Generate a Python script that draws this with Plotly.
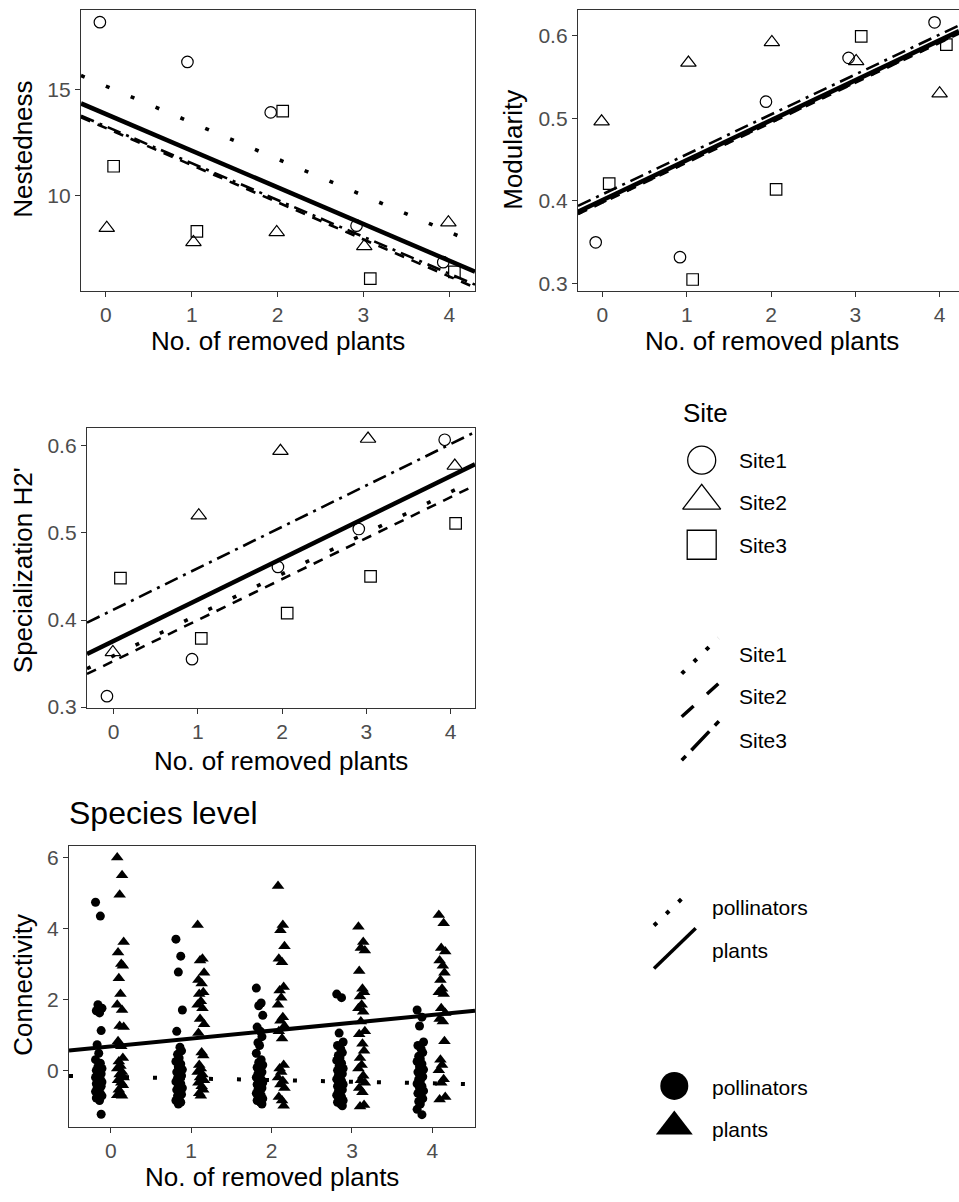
import plotly.graph_objects as go

W, H = 959, 1202

# ---------------- data ----------------
# Nestedness (community level), x = removed plants (with jitter as read)
nest_x_site1 = [-0.07, 0.95, 1.92, 2.92, 3.93]
nest_y_site1 = [18.16, 16.29, 13.91, 8.57, 6.85]
nest_x_site2 = [0.01, 1.02, 1.99, 3.01, 3.99]
nest_y_site2 = [8.46, 7.79, 8.26, 7.60, 8.72]
nest_x_site3 = [0.09, 1.06, 2.06, 3.08, 4.06]
nest_y_site3 = [11.37, 8.30, 13.97, 6.07, 6.39]
nest_fit_intercepts = {"all": 13.83, "Site1": 15.15, "Site2": 13.17, "Site3": 13.25}
nest_fit_slopes = {"all": -1.728, "Site1": -1.72, "Site2": -1.749, "Site3": -1.735}

# Modularity
mod_x_site1 = [-0.08, 0.92, 1.94, 2.92, 3.94]
mod_y_site1 = [0.350, 0.332, 0.520, 0.573, 0.616]
mod_x_site2 = [-0.01, 1.02, 2.01, 3.01, 4.00]
mod_y_site2 = [0.496, 0.567, 0.592, 0.569, 0.530]
mod_x_site3 = [0.08, 1.07, 2.06, 3.07, 4.08]
mod_y_site3 = [0.421, 0.305, 0.414, 0.599, 0.589]
mod_fit_intercepts = {"all": 0.401, "Site1": 0.399, "Site2": 0.398, "Site3": 0.408}
mod_fit_slopes = {"all": 0.0483, "Site1": 0.0483, "Site2": 0.0483, "Site3": 0.0483}

# Specialization H2'
h2_x_site1 = [-0.08, 0.93, 1.95, 2.91, 3.93]
h2_y_site1 = [0.3125, 0.355, 0.461, 0.5045, 0.607]
h2_x_site2 = [-0.01, 1.01, 1.98, 3.02, 4.05]
h2_y_site2 = [0.363, 0.520, 0.594, 0.608, 0.577]
h2_x_site3 = [0.08, 1.04, 2.06, 3.05, 4.06]
h2_y_site3 = [0.448, 0.379, 0.408, 0.450, 0.511]
h2_fit_intercepts = {"all": 0.376, "Site1": 0.359, "Site2": 0.353, "Site3": 0.412}
h2_fit_slopes = {"all": 0.0473, "Site1": 0.047, "Site2": 0.047, "Site3": 0.0475}

# Species level connectivity, one list per number of removed plants
removed_levels = [0, 1, 2, 3, 4]
conn_pollinators = [
    [4.74, 4.35, 1.85, 1.75, 1.68, 1.62, 1.12, 0.72, 0.48, 0.3, 0.2, 0.1, 0.05, 0.0, -0.05, -0.1,
     -0.12, -0.18, -0.2, -0.25, -0.3, -0.33, -0.38, -0.42, -0.45, -0.5, -0.55, -0.6, -0.65, -0.7,
     -0.72, -0.78, -0.85, -1.24],
    [3.7, 3.22, 2.77, 1.7, 1.1, 0.65, 0.55, 0.45, 0.35, 0.25, 0.18, 0.1, 0.02, -0.05, -0.1, -0.15,
     -0.22, -0.28, -0.32, -0.38, -0.45, -0.5, -0.55, -0.62, -0.68, -0.72, -0.78, -0.85, -0.9, -0.95],
    [2.32, 1.9, 1.82, 1.55, 1.22, 1.1, 0.95, 0.78, 0.7, 0.48, 0.3, 0.22, 0.15, 0.08, 0.0, -0.05,
     -0.1, -0.15, -0.2, -0.25, -0.3, -0.35, -0.4, -0.45, -0.5, -0.55, -0.6, -0.65, -0.7, -0.75,
     -0.8, -0.85, -0.9, -0.95],
    [2.15, 2.05, 1.05, 0.8, 0.7, 0.6, 0.5, 0.42, 0.35, 0.28, 0.2, 0.12, 0.05, 0.0, -0.05, -0.1,
     -0.15, -0.2, -0.25, -0.3, -0.35, -0.4, -0.45, -0.5, -0.55, -0.6, -0.65, -0.7, -0.75, -0.8,
     -0.85, -0.9, -0.95, -1.0],
    [1.7, 1.5, 1.25, 0.8, 0.7, 0.6, 0.5, 0.4, 0.32, 0.25, 0.18, 0.1, 0.02, -0.05, -0.1, -0.18,
     -0.25, -0.3, -0.38, -0.45, -0.5, -0.58, -0.65, -0.72, -0.8, -0.88, -0.95, -1.1, -1.25],
]
conn_plants = [
    [6.0, 5.5, 4.95, 3.62, 3.32, 3.0, 2.95, 2.6, 2.15, 1.85, 1.7, 1.25, 1.22, 0.82, 0.68, 0.35,
     0.25, 0.12, 0.05, -0.05, -0.12, -0.2, -0.28, -0.35, -0.42, -0.55, -0.65, -0.7, -0.72],
    [4.1, 3.15, 3.1, 2.75, 2.55, 2.45, 2.2, 2.15, 1.95, 1.85, 1.75, 1.45, 1.3, 1.05, 0.5, 0.42,
     0.15, 0.05, -0.05, -0.12, -0.2, -0.28, -0.35, -0.45, -0.55, -0.65, -0.72],
    [5.2, 4.1, 3.95, 3.5, 3.15, 3.05, 2.35, 2.25, 2.05, 1.85, 1.5, 1.4, 1.25, 1.1, 0.9, 0.15,
     0.05, -0.05, -0.2, -0.3, -0.4, -0.5, -0.75, -0.85, -1.0],
    [4.05, 3.62, 3.45, 3.38, 2.8, 2.3, 2.2, 2.08, 1.85, 1.75, 1.65, 1.38, 1.1, 1.02, 0.75, 0.55,
     0.35, 0.15, 0.05, -0.15, -0.28, -0.35, -0.5, -0.62, -0.98, -1.02],
    [4.38, 4.15, 3.45, 3.35, 3.1, 2.95, 2.75, 2.55, 2.3, 2.2, 2.15, 1.75, 1.62, 1.45, 1.38, 0.82,
     0.3, 0.15, 0.0, -0.25, -0.35, -0.75, -0.82],
]
conn_fit_intercepts = {"pollinators": -0.183, "plants": 0.675}
conn_fit_slopes = {"pollinators": -0.046, "plants": 0.222}
group_offsets = {"pollinators": -0.15, "plants": 0.12}
jitter_cycle = [-0.04, 0.02, -0.01, 0.04, -0.03, 0.01, 0.03, -0.02, 0.0]

site_names = ["Site1", "Site2", "Site3"]
x_ticks = [0, 1, 2, 3, 4]

# ---------------- styles ----------------
FONT = "Liberation Sans, Arial, sans-serif"
TICK_FONT = dict(family=FONT, size=21, color="#4d4d4d")
BORDER = "#333333"

site_symbols = {"Site1": "circle-open", "Site2": "triangle-up-open", "Site3": "square-open"}
site_sizes = {"Site1": 11.5, "Site2": 13.5, "Site3": 11.5}
site_dash = {"Site1": "4px,23px", "Site2": "10px,8px", "Site3": "14px,6px,3px,6px"}
site_width = {"Site1": 3.6, "Site2": 2.6, "Site3": 2.6}


def px_dom_x(a, b):
    return [a / W, b / W]


def px_dom_y(top, bottom):
    return [1 - bottom / H, 1 - top / H]


fig = go.Figure()

panels = [
    dict(ax="", xr=[-0.29, 4.30], yr=[5.51, 18.74], yt=[10, 15], ytext=["10", "15"],
         dx=px_dom_x(81, 475), dy=px_dom_y(10, 293), mirror_y=True,
         xs=[nest_x_site1, nest_x_site2, nest_x_site3], ys=[nest_y_site1, nest_y_site2, nest_y_site3],
         ic=nest_fit_intercepts, sl=nest_fit_slopes),
    dict(ax="2", xr=[-0.29, 4.23], yr=[0.2916, 0.631], yt=[0.3, 0.4, 0.5, 0.6],
         ytext=["0.3", "0.4", "0.5", "0.6"],
         dx=px_dom_x(578, 959), dy=px_dom_y(10, 293), mirror_y=False,
         xs=[mod_x_site1, mod_x_site2, mod_x_site3], ys=[mod_y_site1, mod_y_site2, mod_y_site3],
         ic=mod_fit_intercepts, sl=mod_fit_slopes),
    dict(ax="3", xr=[-0.317, 4.29], yr=[0.2989, 0.620], yt=[0.3, 0.4, 0.5, 0.6],
         ytext=["0.3", "0.4", "0.5", "0.6"],
         dx=px_dom_x(87, 475), dy=px_dom_y(432, 714), mirror_y=True,
         xs=[h2_x_site1, h2_x_site2, h2_x_site3], ys=[h2_y_site1, h2_y_site2, h2_y_site3],
         ic=h2_fit_intercepts, sl=h2_fit_slopes),
]

layout_axes = {}


def axis_style(rng, dom, tickvals, ticktext, mirror):
    return dict(range=rng, domain=dom, tickvals=tickvals, ticktext=ticktext,
                showgrid=False, zeroline=False, showline=True, linecolor=BORDER, linewidth=1.3,
                mirror=mirror, ticks="outside", ticklen=5, tickwidth=1.2, tickcolor=BORDER,
                tickfont=TICK_FONT, fixedrange=True)


for p in panels:
    xa, ya = "x" + p["ax"], "y" + p["ax"]
    for i, s in enumerate(site_names):
        fig.add_trace(go.Scatter(
            x=p["xs"][i], y=p["ys"][i], mode="markers", xaxis=xa, yaxis=ya, showlegend=False,
            marker=dict(symbol=site_symbols[s], size=site_sizes[s], color="black",
                        line=dict(width=1.2, color="black"))))
    xr = p["xr"]
    for s in site_names:
        fig.add_trace(go.Scatter(
            x=xr, y=[p["ic"][s] + p["sl"][s] * v for v in xr], mode="lines", xaxis=xa, yaxis=ya,
            showlegend=False, line=dict(color="black", width=site_width[s], dash=site_dash[s])))
    fig.add_trace(go.Scatter(
        x=xr, y=[p["ic"]["all"] + p["sl"]["all"] * v for v in xr], mode="lines", xaxis=xa, yaxis=ya,
        showlegend=False, line=dict(color="black", width=4.5)))
    layout_axes["xaxis" + p["ax"]] = axis_style(xr, p["dx"], x_ticks, [str(t) for t in x_ticks], True)
    ya_style = axis_style(p["yr"], p["dy"], p["yt"], p["ytext"], p["mirror_y"])
    ya_style["anchor"] = "x" + p["ax"]
    layout_axes["xaxis" + p["ax"]]["anchor"] = "y" + p["ax"]
    layout_axes["yaxis" + p["ax"]] = ya_style

# Species level panel
conn_xr = [-0.52, 4.53]
for grp, data, sym, size in [("pollinators", conn_pollinators, "circle", 9),
                             ("plants", conn_plants, "triangle-up", 11)]:
    xs, ys = [], []
    for lvl, vals in zip(removed_levels, data):
        for j, v in enumerate(vals):
            xs.append(lvl + group_offsets[grp] + jitter_cycle[j % len(jitter_cycle)])
            ys.append(v)
    fig.add_trace(go.Scatter(x=xs, y=ys, mode="markers", xaxis="x4", yaxis="y4", showlegend=False,
                             marker=dict(symbol=sym, size=size, color="black", line=dict(width=0))))
fig.add_trace(go.Scatter(
    x=conn_xr, y=[conn_fit_intercepts["pollinators"] + conn_fit_slopes["pollinators"] * v for v in conn_xr],
    mode="lines", xaxis="x4", yaxis="y4", showlegend=False,
    line=dict(color="black", width=4, dash="4px,24px")))
fig.add_trace(go.Scatter(
    x=conn_xr, y=[conn_fit_intercepts["plants"] + conn_fit_slopes["plants"] * v for v in conn_xr],
    mode="lines", xaxis="x4", yaxis="y4", showlegend=False,
    line=dict(color="black", width=4)))
layout_axes["xaxis4"] = axis_style(conn_xr, px_dom_x(69, 475), x_ticks, [str(t) for t in x_ticks], True)
layout_axes["xaxis4"]["anchor"] = "y4"
layout_axes["yaxis4"] = axis_style([-1.586, 6.33], px_dom_y(853, 1136), [0, 2, 4, 6], ["0", "2", "4", "6"], True)
layout_axes["yaxis4"]["anchor"] = "x4"

# ---------------- custom legends (pixel overlay axis) ----------------
layout_axes["xaxis5"] = dict(domain=[0, 1], range=[0, W], visible=False, fixedrange=True, anchor="y5")
layout_axes["yaxis5"] = dict(domain=[0, 1], range=[H, 0], visible=False, fixedrange=True, anchor="x5")


def leg_marker(x, y, sym, size, width=1.3):
    fig.add_trace(go.Scatter(x=[x], y=[y], mode="markers", xaxis="x5", yaxis="y5", showlegend=False,
                             marker=dict(symbol=sym, size=size, color="black",
                                         line=dict(width=width, color="black"))))


def leg_line(x0, y0, x1, y1, dash, width):
    fig.add_trace(go.Scatter(x=[x0, x1], y=[y0, y1], mode="lines", xaxis="x5", yaxis="y5",
                             showlegend=False, line=dict(color="black", width=width, dash=dash)))


leg_marker(701.7, 464, "circle-open", 28)
leg_marker(701.7, 505, "triangle-up-open", 33)
leg_marker(701.7, 549.3, "square-open", 29)

leg_line(681.7, 679.3, 718.3, 643.3, "4px,13px", 4)
leg_line(681.7, 722.7, 718.3, 689.5, "16px,18px", 3.5)
leg_line(681.7, 766.7, 722, 724, "6px,8px,26px,8px", 3.5)

leg_line(654, 933.3, 690, 898.3, "4px,13px", 4)
leg_line(654, 976.7, 695.7, 936, "solid", 3.5)

leg_marker(674.3, 1095, "circle", 28, 0)
leg_marker(674.3, 1136, "triangle-up", 32, 0)

annotations = []


def text(px, py, s, size=21, xanchor="left", angle=0, color="black"):
    annotations.append(dict(x=px / W, y=1 - py / H, xref="paper", yref="paper", text=s,
                            showarrow=False, xanchor=xanchor, yanchor="middle", textangle=angle,
                            font=dict(family=FONT, size=size, color=color)))


text(681, 416, "Site", size=26)
text(737, 464, "Site1")
text(737, 506.7, "Site2")
text(737, 550, "Site3")
text(737, 660, "Site1")
text(737, 702.7, "Site2")
text(737, 746.7, "Site3")
text(710, 915, "pollinators")
text(710, 958.3, "plants")
text(710, 1096.7, "pollinators")
text(710, 1139.3, "plants")

# axis titles
text(278, 344, "No. of removed plants", size=26, xanchor="center")
text(23, 151, "Nestedness", size=26, xanchor="center", angle=-90)
text(772, 344, "No. of removed plants", size=26, xanchor="center")
text(513, 151, "Modularity", size=26, xanchor="center", angle=-90)
text(281, 767, "No. of removed plants", size=26, xanchor="center")
text(23, 575, "Specialization H2'", size=26, xanchor="center", angle=-90)
text(272, 1187, "No. of removed plants", size=26, xanchor="center")
text(23, 993, "Connectivity", size=26, xanchor="center", angle=-90)
text(67, 820, "Species level", size=32)

fig.update_layout(
    width=W, height=H, margin=dict(l=0, r=0, t=0, b=0),
    paper_bgcolor="white", plot_bgcolor="rgba(0,0,0,0)",
    showlegend=False, annotations=annotations, **layout_axes)

fig.write_html("out.html", config={"displayModeBar": False})
